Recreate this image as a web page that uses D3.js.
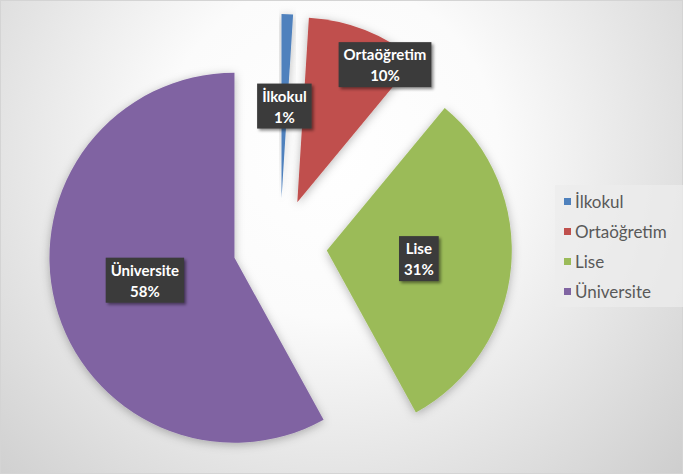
<!DOCTYPE html>
<html lang="tr">
<head>
  <meta charset="UTF-8">
  <title>Eğitim Durumu</title>
  <script src="https://cdn.jsdelivr.net/npm/d3@7"></script>
  <style>
    html, body { margin: 0; padding: 0; }
    svg { display: block; }
  </style>
</head>
<body>
  <div class="chart"></div>
  <script>
    const categories = ['İlkokul', 'Ortaöğretim', 'Lise', 'Üniversite']
    const values = [1, 10, 31, 58]
    const colors = ['#4F81BD', '#C0504D', '#9BBB59', '#8064A2']
    // where the label sits along the slice (fraction of radius) and angle tweak (deg)
    const labelRadius = [0.5, 0.88, 0.5, 0.5]
    const labelShift = [0, 11, 0, 0]

    const width = 683
    const height = 474
    const cx = 280
    const cy = 246
    const radius = 185
    const explode = 47

    const svg = d3.select('.chart').append('svg')
      .attr('width', width)
      .attr('height', height)

    const defs = svg.append('defs')
    const grad = defs.append('radialGradient')
      .attr('id', 'bg')
      .attr('gradientUnits', 'userSpaceOnUse')
      .attr('cx', 330).attr('cy', 150).attr('r', 560)
    grad.append('stop').attr('offset', '0%').attr('stop-color', '#ffffff')
    grad.append('stop').attr('offset', '30%').attr('stop-color', '#fbfbfb')
    grad.append('stop').attr('offset', '100%').attr('stop-color', '#c2c2c2')

    const shadow = defs.append('filter').attr('id', 'shadow')
      .attr('x', '-20%').attr('y', '-20%').attr('width', '140%').attr('height', '140%')
    shadow.append('feDropShadow')
      .attr('dx', 0).attr('dy', 2).attr('stdDeviation', 5)
      .attr('flood-color', '#000').attr('flood-opacity', 0.28)

    const boxShadow = defs.append('filter').attr('id', 'boxShadow')
      .attr('x', '-20%').attr('y', '-20%').attr('width', '150%').attr('height', '150%')
    boxShadow.append('feDropShadow')
      .attr('dx', 2).attr('dy', 2).attr('stdDeviation', 1.5)
      .attr('flood-color', '#000').attr('flood-opacity', 0.45)

    svg.append('rect')
      .attr('width', width).attr('height', height)
      .attr('fill', 'url(#bg)')
    svg.append('rect')
      .attr('x', 0.5).attr('y', 0.5)
      .attr('width', width - 1).attr('height', height - 1)
      .attr('fill', 'none').attr('stroke', '#d4d4d4')

    const data = categories.map((c, i) => ({ name: c, value: values[i], i }))
    const total = d3.sum(values)

    const pie = d3.pie().value(d => d.value).sort(null)
    const arc = d3.arc().innerRadius(0).outerRadius(radius)
    const arcs = pie(data)

    const dir = a => [Math.sin(a), -Math.cos(a)]
    const offset = d => dir((d.startAngle + d.endAngle) / 2).map(v => v * explode)

    const g = svg.append('g').attr('transform', `translate(${cx},${cy})`)

    g.selectAll('.slice')
      .data(arcs)
      .enter().append('path')
      .attr('class', 'slice')
      .attr('transform', d => `translate(${offset(d)})`)
      .attr('d', arc)
      .attr('fill', d => colors[d.data.i])
      .attr('filter', 'url(#shadow)')

    // labels on their own layer so neighbouring slices don't cover them
    const label = g.selectAll('.label')
      .data(arcs)
      .enter().append('g')
      .attr('class', 'label')
      .attr('transform', d => {
        const a = (d.startAngle + d.endAngle) / 2 + labelShift[d.data.i] * Math.PI / 180
        const [ux, uy] = dir(a)
        const [ox, oy] = offset(d)
        const rr = radius * labelRadius[d.data.i]
        return `translate(${ox + ux * rr},${oy + uy * rr})`
      })

    label.each(function (d) {
      const el = d3.select(this)
      const pct = Math.round(d.data.value / total * 100) + '%'
      const box = el.append('rect').attr('fill', '#3a3a3a').attr('filter', 'url(#boxShadow)')
      const t = el.append('text')
        .attr('text-anchor', 'middle')
        .style('font-family', 'Lato, "Open Sans", sans-serif')
        .style('font-weight', 'bold')
        .style('font-size', '15px')
        .attr('fill', '#ffffff')
      t.append('tspan').attr('x', 0).attr('y', -5).text(d.data.name)
      t.append('tspan').attr('x', 0).attr('y', 16).text(pct)
      const bb = t.node().getBBox()
      const w = Math.max(bb.width + 10, 37)
      box.attr('x', -w / 2).attr('y', -23).attr('width', w).attr('height', 45)
    })

    // legend
    const legend = svg.append('g').attr('transform', 'translate(555,185)')
    legend.append('rect')
      .attr('width', 128).attr('height', 122)
      .attr('fill', '#ececec').attr('opacity', 0.75)

    const item = legend.selectAll('.item')
      .data(data)
      .enter().append('g')
      .attr('class', 'item')
      .attr('transform', (d, i) => `translate(9,${17 + i * 30})`)

    item.append('rect')
      .attr('x', 0).attr('y', -4)
      .attr('width', 7).attr('height', 7)
      .attr('fill', d => colors[d.i])

    item.append('text')
      .attr('x', 11).attr('y', 6)
      .style('font-family', 'Lato, "Open Sans", sans-serif')
      .style('font-size', '17px')
      .attr('fill', '#595959')
      .text(d => d.name)
  </script>
</body>
</html>
